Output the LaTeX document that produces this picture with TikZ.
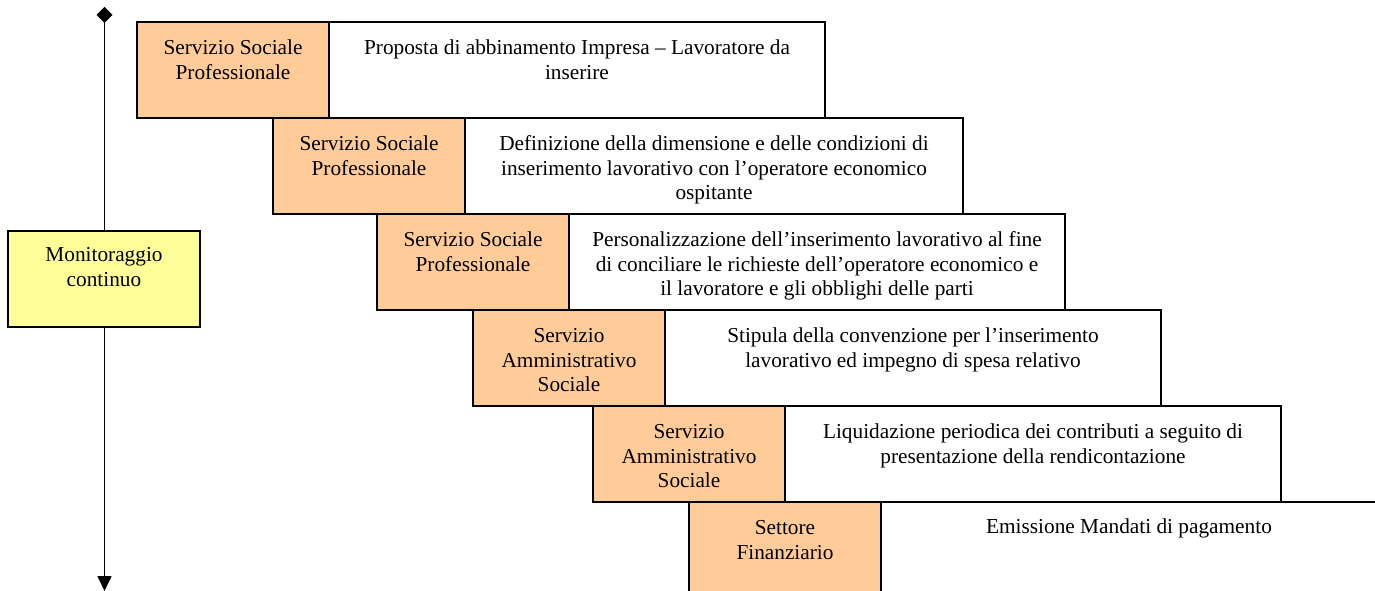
\documentclass[tikz,border=0pt]{standalone}
\usepackage{fontspec}
\setmainfont{Liberation Serif}
\usetikzlibrary{arrows.meta}
\definecolor{tanbox}{HTML}{FFCC99}
\definecolor{lyel}{HTML}{FFFF99}
\newcommand{\fsz}{\fontsize{21.3}{24.5}\selectfont}
\begin{document}
\begin{tikzpicture}[x=1pt,y=-1pt,line width=1.6pt,
  org/.style={draw, fill=tanbox, minimum width=192pt, minimum height=96pt, inner sep=0pt, outer sep=0pt, anchor=north west},
  wht/.style={draw, fill=white, minimum width=496pt, minimum height=96pt, inner sep=0pt, outer sep=0pt, anchor=north west},
  yel/.style={draw, fill=lyel, minimum width=192pt, minimum height=96pt, inner sep=0pt, outer sep=0pt, anchor=north west},
  txt/.style={font=\fsz, align=center, inner sep=0pt, anchor=north}]
\useasboundingbox (0,0) rectangle (1375,591);
% axis
\coordinate (atop) at (104.5,7);
\coordinate (abot) at (104.5,591);
\draw[{Diamond[length=16pt,width=16pt]}-{Triangle[length=15pt,width=14pt]}] (atop) -- (abot);
\node[yel] (mon) at (8,231) {};
\node[txt] (tmon) at ([yshift=-12.8pt]mon.north) {\strut Monitoraggio\\continuo};
% row 1
\node[org] (o1) at (137,22) {};
\node[wht] (w1) at (329,22) {};
\node[txt] (to1) at ([yshift=-15pt]o1.north) {\strut Servizio Sociale\\Professionale};
\node[txt] (tw1) at ([yshift=-15pt]w1.north) {\strut Proposta di abbinamento Impresa – Lavoratore da\\inserire};
% row 2
\node[org] (o2) at (273,118) {};
\node[wht, minimum width=498pt] (w2) at (465,118) {};
\node[txt] (to2) at ([yshift=-15pt]o2.north) {\strut Servizio Sociale\\Professionale};
\node[txt] (tw2) at ([yshift=-15pt]w2.north) {\strut Definizione della dimensione e delle condizioni di\\inserimento lavorativo con l’operatore economico\\ospitante};
% row 3
\node[org] (o3) at (377,214) {};
\node[wht] (w3) at (569,214) {};
\node[txt] (to3) at ([yshift=-15pt]o3.north) {\strut Servizio Sociale\\Professionale};
\node[txt] (tw3) at ([yshift=-15pt]w3.north) {\strut Personalizzazione dell’inserimento lavorativo al fine\\di conciliare le richieste dell’operatore economico e\\il lavoratore e gli obblighi delle parti};
% row 4
\node[org] (o4) at (473,310) {};
\node[wht] (w4) at (665,310) {};
\node[txt] (to4) at ([yshift=-15pt]o4.north) {\strut Servizio\\Amministrativo\\Sociale};
\node[txt] (tw4) at ([yshift=-15pt]w4.north) {\strut Stipula della convenzione per l’inserimento\\lavorativo ed impegno di spesa relativo};
% row 5
\node[org] (o5) at (593,406) {};
\node[wht] (w5) at (785,406) {};
\node[txt] (to5) at ([yshift=-15pt]o5.north) {\strut Servizio\\Amministrativo\\Sociale};
\node[txt] (tw5) at ([yshift=-15pt]w5.north) {\strut Liquidazione periodica dei contributi a seguito di\\presentazione della rendicontazione};
% row 6
\node[org, minimum height=110pt] (o6) at (689,502) {};
\node[txt] (to6) at ([yshift=-15pt]o6.north) {\strut Settore\\Finanziario};
\coordinate (rend) at (1375,502);
\draw (o6.north east) -- (rend);
\node[txt] (tw6) at (1129,516) {\strut Emissione Mandati di pagamento};
\end{tikzpicture}
\end{document}
